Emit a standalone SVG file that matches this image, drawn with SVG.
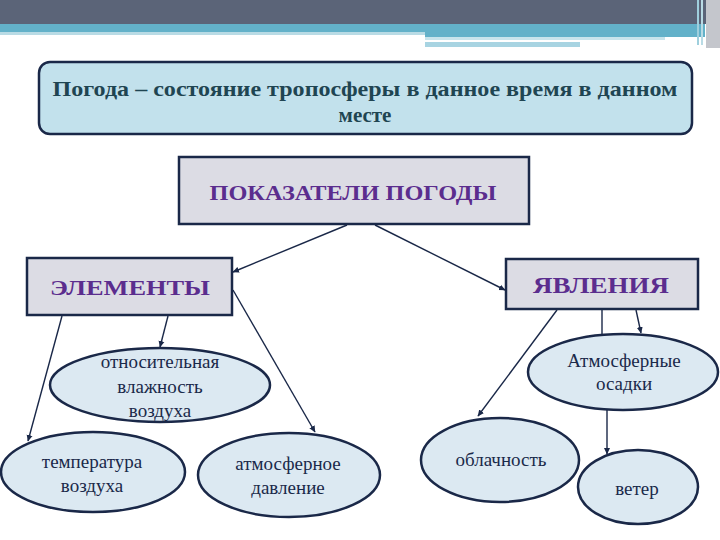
<svg xmlns="http://www.w3.org/2000/svg" width="720" height="540" viewBox="0 0 720 540">
<style>
.ttl{font-family:"Liberation Serif","DejaVu Serif",serif;font-weight:bold;font-size:21px;fill:#1f4552;text-anchor:middle}
.hd{font-family:"Liberation Serif","DejaVu Serif",serif;font-weight:bold;fill:#5b2d8e;text-anchor:middle}
.el{font-family:"Liberation Serif","DejaVu Serif",serif;font-size:19px;fill:#1a2a4a;text-anchor:middle}
.box{fill:#dcdce4;stroke:#1a2848;stroke-width:2.5}
.ell{fill:#dce9f2;stroke:#1a2848;stroke-width:2.5}
.con{stroke:#1a2848;stroke-width:1.4;fill:none}
</style>
<defs>
<marker id="ar" markerWidth="7" markerHeight="7" refX="6" refY="3.5" orient="auto" markerUnits="userSpaceOnUse">
<path d="M0,0.5 L6.5,3.5 L0,6.5 Z" fill="#1a2848"/>
</marker>
</defs>
<rect width="720" height="540" fill="#ffffff"/>
<g id="banner">
<rect x="0" y="0" width="720" height="24" fill="#5b6478"/>
<rect x="0" y="24" width="705" height="8" fill="#63b1c9"/>
<rect x="0" y="32" width="425" height="3" fill="#b9dbe5"/>
<rect x="425" y="32" width="280" height="5" fill="#63b1c9"/>
<rect x="425" y="37" width="240" height="3" fill="#c8e4ec"/>
<rect x="425" y="42" width="155" height="5" fill="#a8d4e2"/>
<rect x="697" y="0" width="2" height="45" fill="#9fcfdd"/>
<rect x="701" y="0" width="2" height="45" fill="#b9dbe5"/>
<rect x="706" y="0" width="14" height="48" fill="#c4c6cc"/>
</g>
<g id="title">
<rect x="39" y="62" width="653" height="72" rx="11" ry="11" fill="#c2e1ec" stroke="#1a2848" stroke-width="2.5"/>
<text class="ttl" x="365" y="96" textLength="625" lengthAdjust="spacingAndGlyphs">Погода – состояние тропосферы в данное время в данном</text>
<text class="ttl" x="365" y="122">месте</text>
</g>
<g id="connectors">
<line class="con" x1="347" y1="225" x2="233" y2="272" marker-end="url(#ar)"/>
<line class="con" x1="375" y1="225" x2="505" y2="290" marker-end="url(#ar)"/>
<line class="con" x1="62" y1="316" x2="28" y2="441" marker-end="url(#ar)"/>
<line class="con" x1="168" y1="316" x2="160" y2="347" marker-end="url(#ar)"/>
<line class="con" x1="233" y1="290" x2="315" y2="432" marker-end="url(#ar)"/>
<line class="con" x1="557" y1="310" x2="478" y2="416" marker-end="url(#ar)"/>
<line class="con" x1="602" y1="310" x2="602" y2="334"/>
<line class="con" x1="636" y1="310" x2="641" y2="333" marker-end="url(#ar)"/>
<line class="con" x1="607" y1="410" x2="607" y2="454" marker-end="url(#ar)"/>
</g>
<g id="pokazateli">
<rect class="box" x="179" y="157" width="350" height="67"/>
<text class="hd" x="353" y="200" font-size="21" textLength="287" lengthAdjust="spacingAndGlyphs">ПОКАЗАТЕЛИ ПОГОДЫ</text>
</g>
<g id="elementy">
<rect class="box" x="27" y="258" width="205" height="57"/>
<text class="hd" x="130" y="295" font-size="22" textLength="160" lengthAdjust="spacingAndGlyphs">ЭЛЕМЕНТЫ</text>
</g>
<g id="yavleniya">
<rect class="box" x="506" y="259" width="192" height="50"/>
<text class="hd" x="601" y="293" font-size="24" textLength="136" lengthAdjust="spacingAndGlyphs">ЯВЛЕНИЯ</text>
</g>
<g id="vlazhnost">
<ellipse class="ell" cx="160" cy="385" rx="110" ry="37"/>
<text class="el" x="160" y="368">относительная</text>
<text class="el" x="160" y="393">влажность</text>
<text class="el" x="160" y="417">воздуха</text>
</g>
<g id="temperatura">
<ellipse class="ell" cx="93" cy="472" rx="92" ry="40"/>
<text class="el" x="92" y="468">температура</text>
<text class="el" x="92" y="492">воздуха</text>
</g>
<g id="davlenie">
<ellipse class="ell" cx="289" cy="475" rx="91" ry="42"/>
<text class="el" x="288" y="470">атмосферное</text>
<text class="el" x="288" y="494">давление</text>
</g>
<g id="osadki">
<ellipse class="ell" cx="623" cy="372" rx="95" ry="38"/>
<text class="el" x="624" y="367">Атмосферные</text>
<text class="el" x="624" y="390">осадки</text>
</g>
<g id="oblachnost">
<ellipse class="ell" cx="500" cy="460" rx="79" ry="42"/>
<text class="el" x="501" y="466">облачность</text>
</g>
<g id="veter">
<ellipse class="ell" cx="638" cy="487" rx="60" ry="37"/>
<text class="el" x="637" y="495">ветер</text>
</g>
</svg>
